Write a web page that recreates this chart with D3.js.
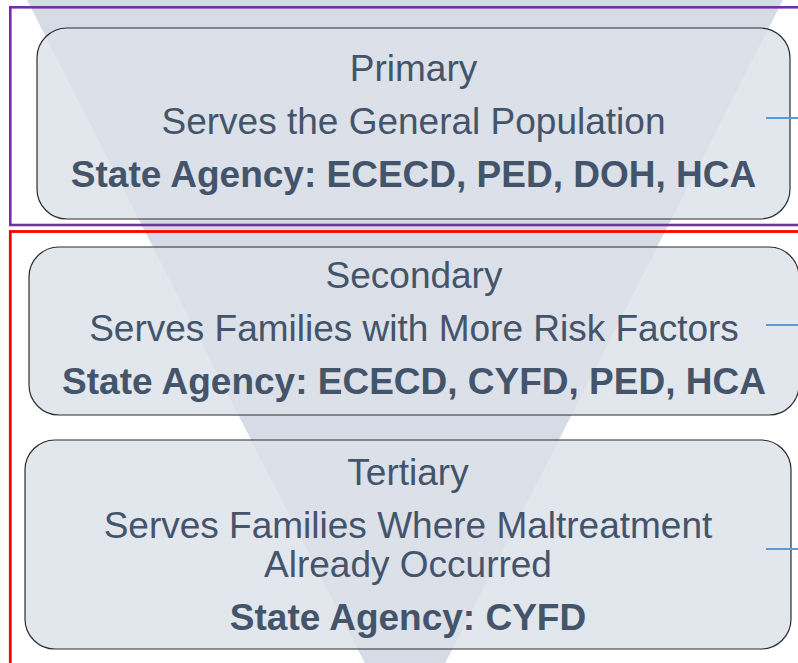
<!DOCTYPE html>
<html>
<head>
<meta charset="utf-8">
<script src="https://cdn.jsdelivr.net/npm/d3@7"></script>
<style>
  html, body { margin: 0; padding: 0; background: #fff; }
  svg { display: block; }
</style>
</head>
<body>
<div id="chart"></div>
<script>
'use strict';

// tiers of prevention, top to bottom
const tiers = ['Primary', 'Secondary', 'Tertiary'];
const descriptions = [
  ['Serves the General Population'],
  ['Serves Families with More Risk Factors'],
  ['Serves Families Where Maltreatment', 'Already Occurred']
];
const agencies = [
  'State Agency: ECECD, PED, DOH, HCA',
  'State Agency: ECECD, CYFD, PED, HCA',
  'State Agency: CYFD'
];

const width = 798;
const height = 663;

// box geometry (left, top, right, bottom) and connector stub heights
const boxes = [
  [37, 28, 790, 219],
  [29, 247, 799, 415],
  [25, 440, 791, 649]
];
const stubY = [118, 325, 549];

const textColor = '#44546a';

const svg = d3.select('#chart')
  .append('svg')
  .attr('width', width)
  .attr('height', height);

// funnel behind everything
const x = d3.scaleLinear().domain([0, 1]).range([27, 783]);
const apexY = 742;
svg.append('path')
  .attr('d', d3.line()([[x(0), 0], [x(1), 0], [x(0.5), apexY]]) + 'Z')
  .attr('fill', '#d6dce5');

// grouping frames
svg.append('rect')
  .attr('x', 10.3).attr('y', 7.3)
  .attr('width', 820).attr('height', 225 - 7.3)
  .attr('fill', 'none')
  .attr('stroke', '#7030a0')
  .attr('stroke-width', 2.6);

svg.append('rect')
  .attr('x', 10.3).attr('y', 231.5)
  .attr('width', 820).attr('height', 500)
  .attr('fill', 'none')
  .attr('stroke', '#ff0000')
  .attr('stroke-width', 2.8);

const groups = svg.selectAll('.tier')
  .data(tiers)
  .enter()
  .append('g')
  .attr('class', 'tier');

groups.append('rect')
  .attr('x', (d, i) => boxes[i][0])
  .attr('y', (d, i) => boxes[i][1])
  .attr('width', (d, i) => boxes[i][2] - boxes[i][0])
  .attr('height', (d, i) => boxes[i][3] - boxes[i][1])
  .attr('rx', 30)
  .attr('fill', '#dce0e9')
  .attr('fill-opacity', 0.82)
  .attr('stroke', '#2b2b2b')
  .attr('stroke-width', 1.2);

// connector stubs on the right
groups.append('line')
  .attr('x1', 766)
  .attr('x2', 800)
  .attr('y1', (d, i) => stubY[i])
  .attr('y2', (d, i) => stubY[i])
  .attr('stroke', '#5b9bd5')
  .attr('stroke-width', 2);

groups.each(function (d, i) {
  const g = d3.select(this);
  const b = boxes[i];
  const cx = (b[0] + b[2]) / 2;
  const cy = (b[1] + b[3]) / 2;

  // build lines with their baseline offsets
  const lines = [{ text: d, off: 0, bold: false }];
  let off = 0;
  descriptions[i].forEach((t, j) => {
    off += j === 0 ? 53 : 39;
    lines.push({ text: t, off: off, bold: false });
  });
  off += 53;
  lines.push({ text: agencies[i], off: off, bold: true });

  const mid = off / 2;
  const start = cy + 10 + 3 * (descriptions[i].length - 1) - mid;

  g.selectAll('text')
    .data(lines)
    .enter()
    .append('text')
    .attr('x', cx)
    .attr('y', l => start + l.off)
    .attr('text-anchor', 'middle')
    .attr('font-family', '"Liberation Sans", Arial, sans-serif')
    .attr('font-size', 37)
    .attr('font-weight', l => l.bold ? 'bold' : 'normal')
    .attr('fill', textColor)
    .text(l => l.text);
});
</script>
</body>
</html>
